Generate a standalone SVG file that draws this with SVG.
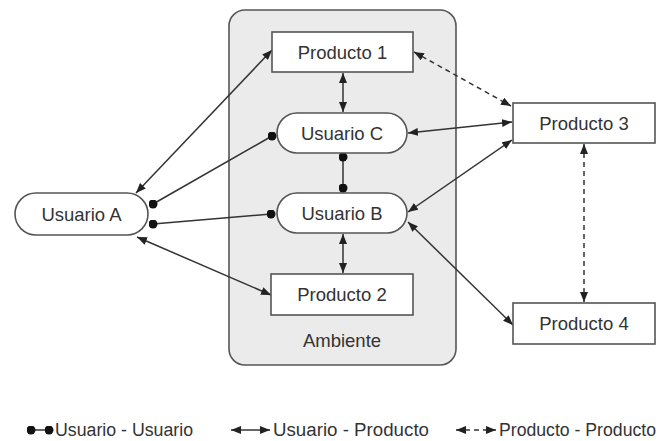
<svg xmlns="http://www.w3.org/2000/svg" width="661" height="441" viewBox="0 0 661 441">
<style>
text{font-family:"Liberation Sans",Arial,sans-serif;font-size:18.5px;fill:#333;text-anchor:middle}
.lg{font-size:18px;text-anchor:start}
.box{fill:#fff;stroke:#555;stroke-width:1.6}
.ln{stroke:#333;stroke-width:1.5;fill:none}
.ua{marker-start:url(#ar);marker-end:url(#ar)}
.uu{marker-start:url(#dot);marker-end:url(#dot)}
.pp{stroke-dasharray:5 4}
</style>
<defs>
<marker id="ar" viewBox="0 0 10 8" refX="10" refY="4" markerWidth="10" markerHeight="8" markerUnits="userSpaceOnUse" orient="auto-start-reverse"><path d="M0,0L10,4L0,8Z" fill="#222"/></marker>
<marker id="dot" viewBox="0 0 10 10" refX="5" refY="5" markerWidth="9" markerHeight="9" markerUnits="userSpaceOnUse"><circle cx="5" cy="5" r="5" fill="#111"/></marker>
</defs>
<g id="ambiente">
<rect x="229" y="10" width="227" height="355" rx="16" fill="#ebebeb" stroke="#555" stroke-width="1.6"/>
<text x="342" y="347">Ambiente</text>
</g>
<g id="connectors">
<line class="ln ua" x1="343" y1="73" x2="343" y2="112"/>
<line class="ln uu" x1="343" y1="157" x2="343" y2="188"/>
<line class="ln ua" x1="343" y1="234" x2="343" y2="273"/>
<line class="ln ua" x1="136" y1="193" x2="272" y2="50"/>
<line class="ln uu" x1="153" y1="204" x2="272" y2="136"/>
<line class="ln uu" x1="153" y1="224" x2="271" y2="214"/>
<line class="ln ua" x1="137" y1="237" x2="271" y2="295"/>
<line class="ln ua" x1="408" y1="133" x2="512" y2="122"/>
<line class="ln ua" x1="408" y1="212" x2="512" y2="140"/>
<line class="ln ua" x1="408" y1="222" x2="513" y2="325"/>
<line class="ln ua pp" x1="414" y1="52" x2="511" y2="106"/>
<line class="ln ua pp" x1="584" y1="144" x2="584" y2="302"/>
</g>
<g id="producto1"><rect class="box" x="272" y="32" width="141" height="40"/><text x="342.5" y="58.5">Producto 1</text></g>
<g id="usuarioC"><rect class="box" x="277" y="113" width="130" height="40" rx="20"/><text x="342" y="139.5">Usuario C</text></g>
<g id="usuarioB"><rect class="box" x="277" y="193" width="130" height="40" rx="20"/><text x="342" y="219.5">Usuario B</text></g>
<g id="producto2"><rect class="box" x="271" y="274" width="142" height="41"/><text x="342" y="301">Producto 2</text></g>
<g id="usuarioA"><rect class="box" x="15" y="193" width="133" height="42" rx="21"/><text x="81.5" y="220.5">Usuario A</text></g>
<g id="producto3"><rect class="box" x="513" y="103" width="142" height="40"/><text x="584" y="129.5">Producto 3</text></g>
<g id="producto4"><rect class="box" x="513" y="303" width="142" height="41"/><text x="584" y="330">Producto 4</text></g>
<g id="legend">
<line class="ln uu" x1="31" y1="430" x2="49" y2="430"/>
<text class="lg" x="55" y="436" textLength="138" lengthAdjust="spacingAndGlyphs">Usuario - Usuario</text>
<line class="ln ua" x1="231" y1="430" x2="270" y2="430"/>
<text class="lg" x="273" y="436" textLength="156" lengthAdjust="spacingAndGlyphs">Usuario - Producto</text>
<line class="ln ua pp" x1="456" y1="430" x2="496" y2="430"/>
<text class="lg" x="499" y="436" textLength="157" lengthAdjust="spacingAndGlyphs">Producto - Producto</text>
</g>
</svg>
